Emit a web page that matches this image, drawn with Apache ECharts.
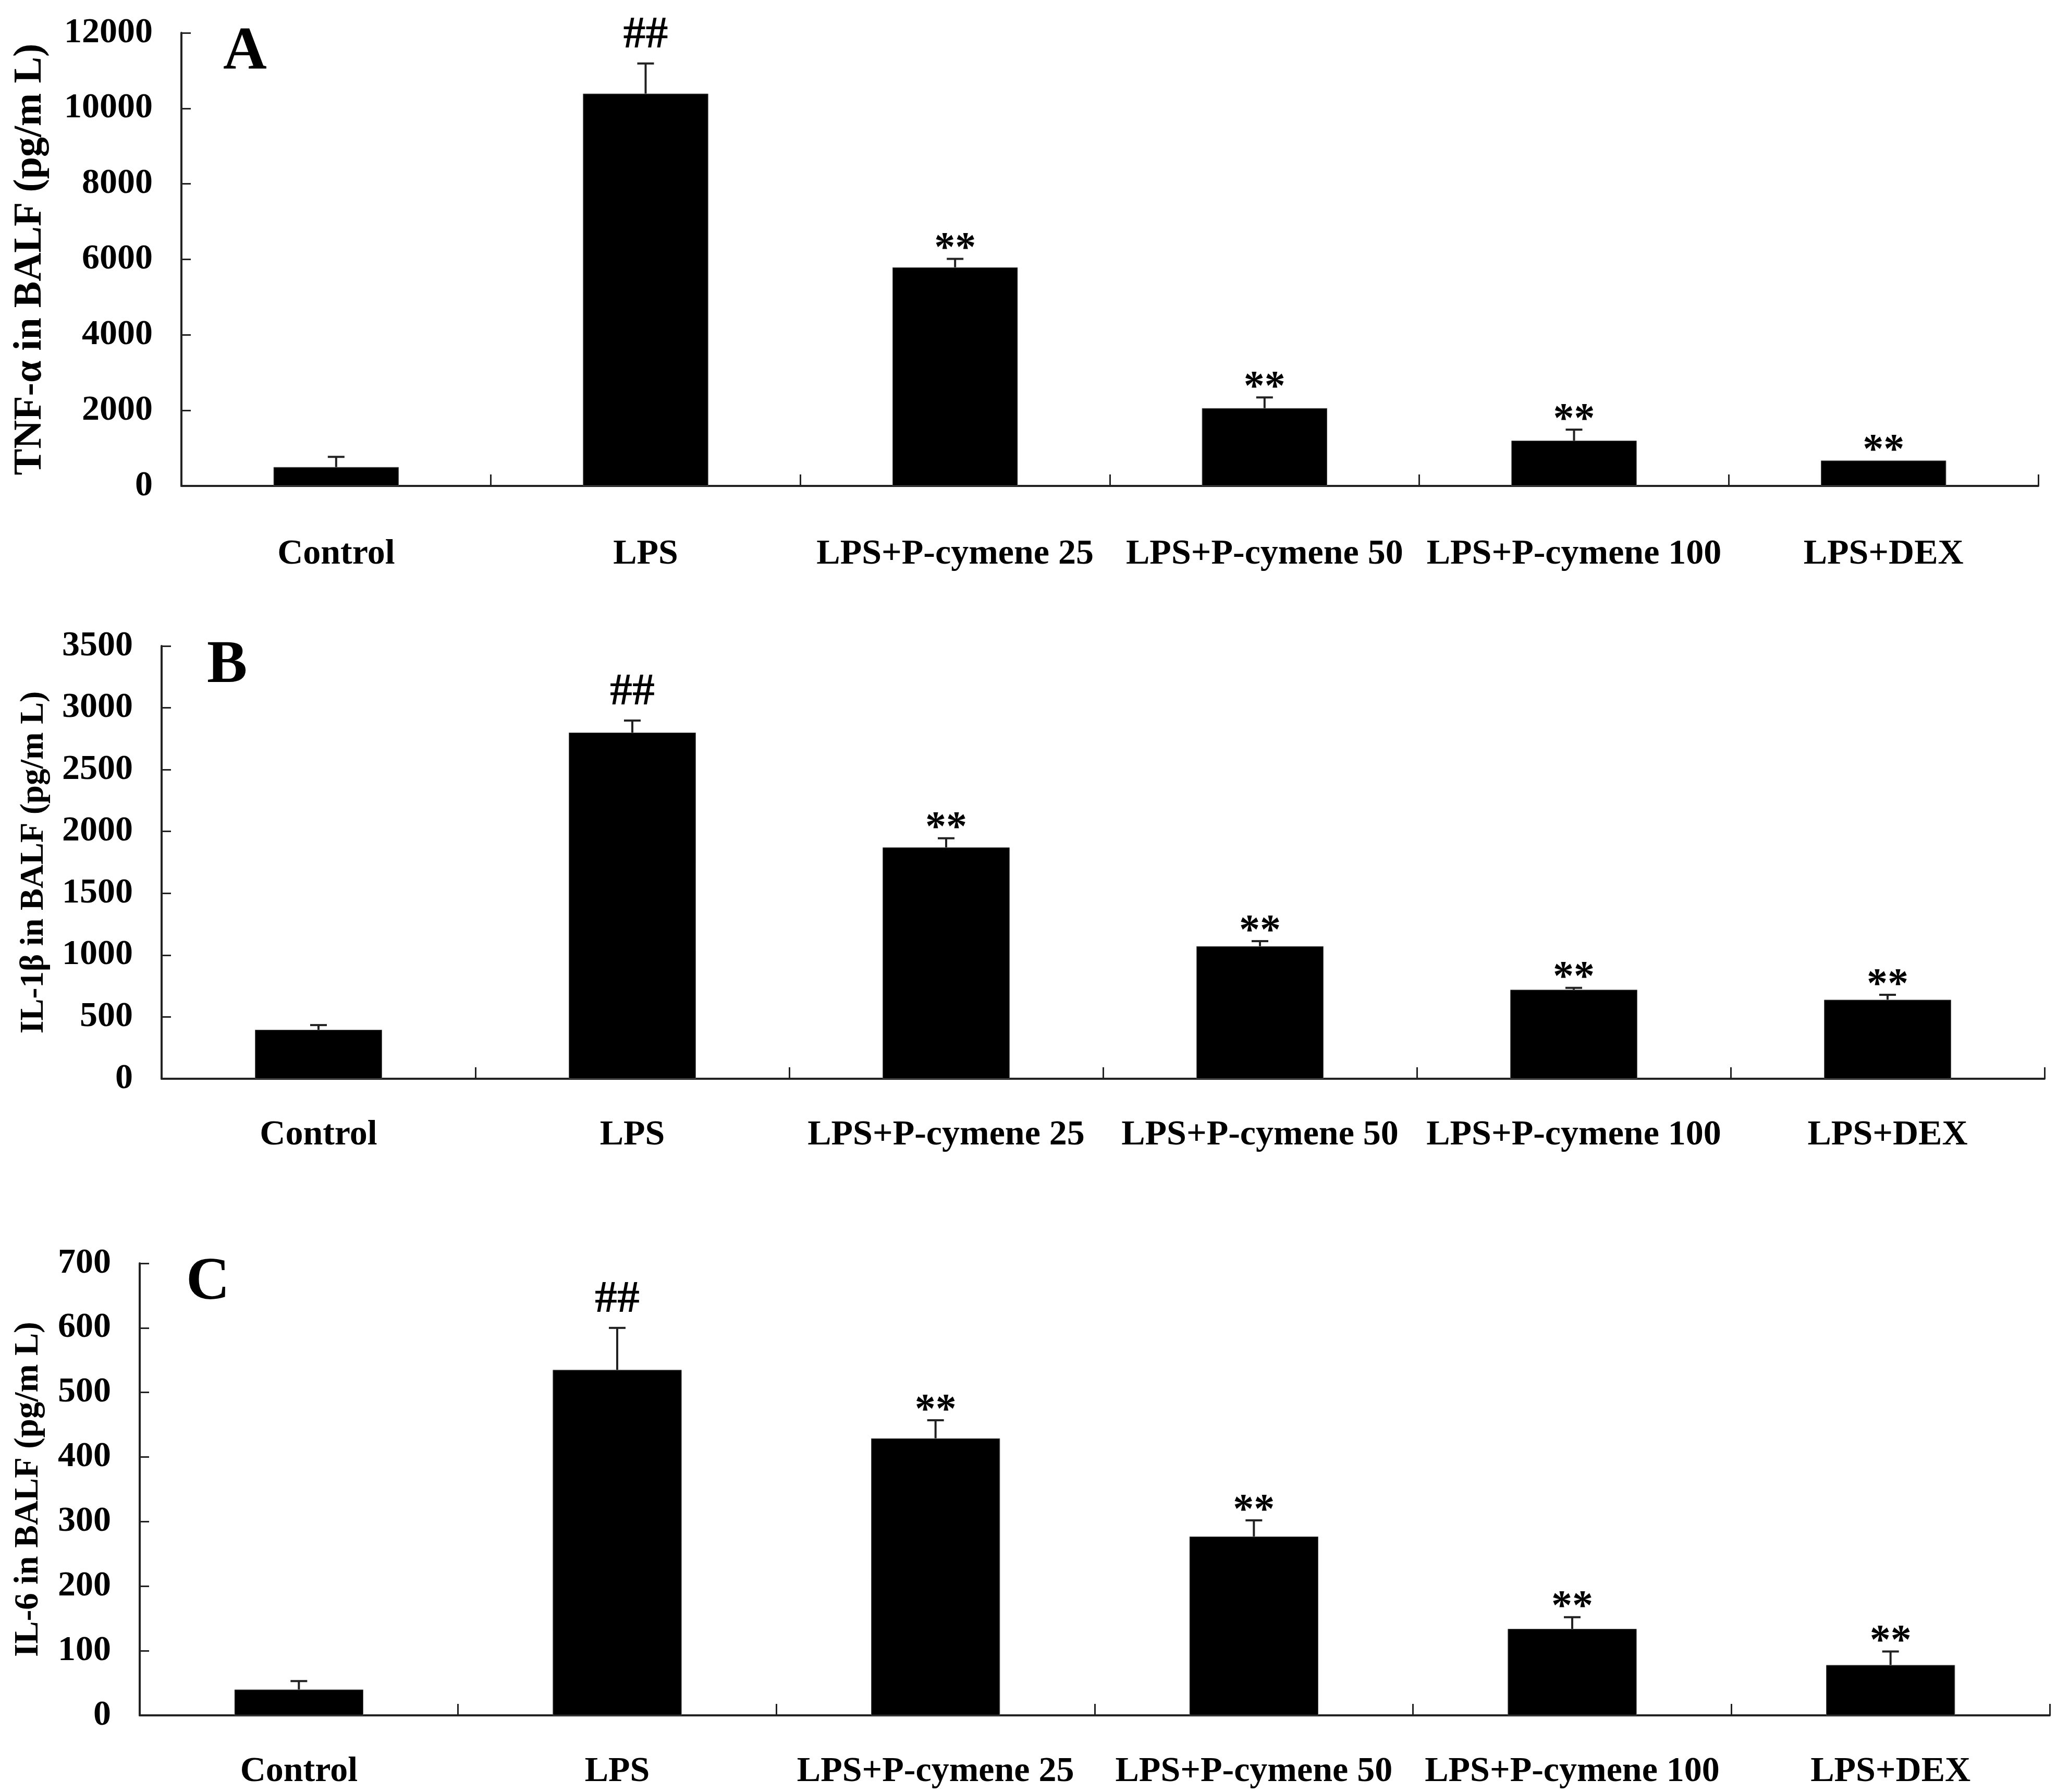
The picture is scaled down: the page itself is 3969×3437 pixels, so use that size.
<!DOCTYPE html>
<html>
<head>
<meta charset="utf-8">
<script src="https://cdn.jsdelivr.net/npm/echarts@6/dist/echarts.min.js"></script>
<style>
html,body{margin:0;padding:0;background:#fff;}
#chart{width:3969px;height:3437px;}
</style>
</head>
<body>
<div id="chart"></div>
<script>
const categories = ['Control', 'LPS', 'LPS+P-cymene 25', 'LPS+P-cymene 50', 'LPS+P-cymene 100', 'LPS+DEX'];

const tnfMean = [500, 10390, 5790, 2060, 1200, 672];
const tnfErr  = [270, 800, 225, 285, 290, 0];
const tnfMarks = ['', '##', '**', '**', '**', '**'];

const il1bMean = [396, 2800, 1871, 1072, 720, 639];
const il1bErr  = [38, 97, 74, 41, 15, 40];
const il1bMarks = ['', '##', '**', '**', '**', '**'];

const il6Mean = [40, 535, 429, 277, 134, 78];
const il6Err  = [13, 65, 28, 25, 18, 21];
const il6Marks = ['', '##', '**', '**', '**', '**'];

const panelLetters = ['A', 'B', 'C'];
const yNames = ['TNF-α in BALF (pg/m L)', 'IL-1β in BALF (pg/m L)', 'IL-6 in BALF (pg/m L)'];
const yMax = [12000, 3500, 700];
const yInterval = [2000, 500, 100];

const FONT = 'Liberation Serif';
const AXC = '#222';

const panels = [
  {mean: tnfMean, err: tnfErr, marks: tnfMarks, grid: {left: 348, top: 63, width: 3562, height: 869}, nameSize: 76, nameGap: 252, labelMargin: 97, letter: [428, 101]},
  {mean: il1bMean, err: il1bErr, marks: il1bMarks, grid: {left: 310, top: 1239, width: 3612, height: 830}, nameSize: 63, nameGap: 213, labelMargin: 74, letter: [397, 1278]},
  {mean: il6Mean, err: il6Err, marks: il6Marks, grid: {left: 268, top: 2423, width: 3664, height: 867}, nameSize: 65, nameGap: 180, labelMargin: 74, letter: [357, 2461]}
];

const grids = [], xAxes = [], yAxes = [], series = [], graphics = [];

panels.forEach((p, k) => {
  grids.push(Object.assign({containLabel: false, outerBoundsMode: 'none'}, p.grid));
  xAxes.push({
    type: 'category', gridIndex: k, data: categories,
    axisLine: {show: true, lineStyle: {color: AXC, width: 4}},
    axisTick: {show: true, inside: true, length: 22, alignWithLabel: false, lineStyle: {color: AXC, width: 3}},
    axisLabel: {interval: 0, hideOverlap: false, margin: p.labelMargin, color: '#000', fontFamily: FONT, fontWeight: 'bold', fontSize: 68},
    splitLine: {show: false}
  });
  yAxes.push({
    type: 'value', gridIndex: k, min: 0, max: yMax[k], interval: yInterval[k],
    name: yNames[k], nameLocation: 'middle', nameGap: p.nameGap, nameRotate: 90,
    nameTextStyle: {color: '#000', fontFamily: FONT, fontWeight: 'bold', fontSize: p.nameSize},
    axisLine: {show: true, lineStyle: {color: AXC, width: 4}},
    axisTick: {show: true, inside: true, length: 18, lineStyle: {color: AXC, width: 3}},
    axisLabel: {margin: 55, color: '#000', fontFamily: FONT, fontWeight: 'bold', fontSize: 68, formatter: v => String(v)},
    splitLine: {show: false}
  });
  series.push({
    type: 'bar', xAxisIndex: k, yAxisIndex: k, data: p.mean,
    barWidth: '40.5%', itemStyle: {color: '#000', borderColor: '#555', borderWidth: 1},
    silent: true, z: 2
  });
  series.push({
    type: 'custom', xAxisIndex: k, yAxisIndex: k, z: 5, silent: true,
    data: p.mean.map((m, i) => [i, m, p.err[i]]),
    renderItem: function (params, api) {
      const i = api.value(0), m = api.value(1), e = api.value(2);
      const pBar = api.coord([i, m]);
      const pTop = api.coord([i, m + e]);
      const children = [];
      if (e > 0) {
        children.push({type: 'line', shape: {x1: pBar[0], y1: pBar[1], x2: pTop[0], y2: pTop[1]}, style: {stroke: AXC, lineWidth: 4}});
        children.push({type: 'line', shape: {x1: pTop[0] - 16, y1: pTop[1], x2: pTop[0] + 16, y2: pTop[1]}, style: {stroke: AXC, lineWidth: 4}});
      }
      const mark = p.marks[params.dataIndex];
      if (mark) {
        const isHash = mark.indexOf('#') >= 0;
        children.push({
          type: 'text',
          style: {
            text: mark, x: pTop[0], y: pTop[1] - (isHash ? 53 : 17),
            align: 'center', verticalAlign: 'middle',
            fill: '#000', fontFamily: FONT, fontWeight: 'bold', fontSize: isHash ? 86 : 80
          }
        });
      }
      return {type: 'group', children: children};
    }
  });
  graphics.push({
    type: 'text', left: p.letter[0], top: p.letter[1] - 58,
    style: {text: panelLetters[k], fill: '#000', fontFamily: FONT, fontWeight: 'bold', fontSize: 116}
  });
});

const chart = echarts.init(document.getElementById('chart'), null, {renderer: 'canvas', devicePixelRatio: 1});
chart.setOption({
  animation: false,
  backgroundColor: '#fff',
  grid: grids, xAxis: xAxes, yAxis: yAxes, series: series, graphic: graphics
});
</script>
</body>
</html>
